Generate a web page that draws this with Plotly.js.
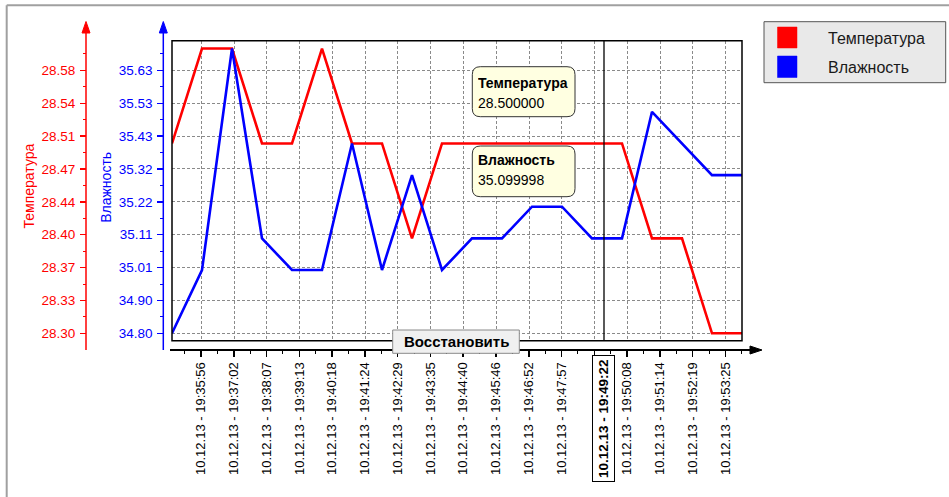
<!DOCTYPE html>
<html><head><meta charset="utf-8">
<script src="https://cdn.plot.ly/plotly-3.0.1.min.js"></script>
<style>html,body{margin:0;padding:0;background:#fff}#chart{width:949px;height:497px}</style>
</head><body><div id="chart"></div>
<script>
// ---------- data ----------
const times = [
  "2013-12-10 19:34:58","2013-12-10 19:35:58","2013-12-10 19:36:58","2013-12-10 19:37:58",
  "2013-12-10 19:38:58","2013-12-10 19:39:58","2013-12-10 19:40:58","2013-12-10 19:41:58",
  "2013-12-10 19:42:58","2013-12-10 19:43:58","2013-12-10 19:44:58","2013-12-10 19:45:58",
  "2013-12-10 19:46:58","2013-12-10 19:47:58","2013-12-10 19:48:58","2013-12-10 19:49:58",
  "2013-12-10 19:50:58","2013-12-10 19:51:58","2013-12-10 19:52:58","2013-12-10 19:53:58"
];
const temperature = [28.5,28.6,28.6,28.5,28.5,28.6,28.5,28.5,28.4,28.5,28.5,28.5,28.5,28.5,28.5,28.5,28.4,28.4,28.3,28.3];
const humidity    = [34.8,35.0,35.7,35.1,35.0,35.0,35.4,35.0,35.3,35.0,35.1,35.1,35.2,35.2,35.1,35.1,35.5,35.4,35.3,35.3];
const seriesNames = ["Температура","Влажность"];
const tickDay = "2013-12-10";
const tickDateText = "10.12.13";
const tickTimes = ["19:35:56","19:37:02","19:38:07","19:39:13","19:40:18","19:41:24","19:42:29","19:43:35",
                   "19:44:40","19:45:46","19:46:52","19:47:57","19:49:03","19:50:08","19:51:14","19:52:19","19:53:25"];
const hiddenTick = "19:49:03";
const tempTickLabels = ["28.30","28.33","28.37","28.40","28.44","28.47","28.51","28.54","28.58"];
const humTickLabels  = ["34.80","34.90","35.01","35.11","35.22","35.32","35.43","35.53","35.63"];
const cursorTime = "19:49:22";
const cursorValues = ["28.500000","35.099998"];
const buttonLabel = "Восстановить";

// ---------- geometry helpers ----------
const FW=949, FH=497, L=60, R=207, T=20, B=147;
const W=FW-L-R, H=FH-T-B;
const px = x => (x-L)/W;
const py = y => 1-(y-T)/H;
const FONT = "Liberation Sans, Arial, sans-serif";
const RED="#ff0000", BLUE="#0000ff";

function axisSetup(vals, labels){
  const mn=Math.min(...vals), mx=Math.max(...vals), span=mx-mn;
  const step=span*0.1154;
  return {range:[mn-0.026*span, mx+0.0275*span], tickvals:labels.map((_,k)=>mn+k*step), step, mn};
}
const tA = axisSetup(temperature, tempTickLabels);
const hA = axisSetup(humidity, humTickLabels);

const xTickVals = tickTimes.map(t => tickDay+" "+t);
const xTickText = tickTimes.map(t => t===hiddenTick ? "" : tickDateText+" - "+t);

const traces = [
  {x:times, y:temperature, yaxis:"y", type:"scatter", mode:"lines", name:seriesNames[0],
   line:{color:RED, width:2.6}, hoverinfo:"skip", showlegend:false},
  {x:times, y:humidity, yaxis:"y2", type:"scatter", mode:"lines", name:seriesNames[1],
   line:{color:BLUE, width:2.6}, hoverinfo:"skip", showlegend:false}
];

const yDom=[py(340.7), py(40.7)];
const GRID="#8a8a8a";

function P(x,y){return px(x)+","+py(y);}
function rrect(x0,y0,x1,y1,r){
  return "M"+P(x0+r,y0)+" L"+P(x1-r,y0)+" Q"+P(x1,y0)+" "+P(x1,y0+r)+
         " L"+P(x1,y1-r)+" Q"+P(x1,y1)+" "+P(x1-r,y1)+
         " L"+P(x0+r,y1)+" Q"+P(x0,y1)+" "+P(x0,y1-r)+
         " L"+P(x0,y0+r)+" Q"+P(x0,y0)+" "+P(x0+r,y0)+" Z";
}
function tri(a,b,c){return "M"+P(a[0],a[1])+" L"+P(b[0],b[1])+" L"+P(c[0],c[1])+" Z";}
function pline(x0,y0,x1,y1,color,width){
  return {type:"line", xref:"paper", yref:"paper", x0:px(x0), y0:py(y0), x1:px(x1), y1:py(y1),
          line:{color:color, width:width}};
}
function ppath(path, fill, lineColor, lw){
  return {type:"path", xref:"paper", yref:"paper", path:path, fillcolor:fill,
          line:{color:lineColor, width:lw}};
}
function prect(x0,y0,x1,y1,fill,lineColor,lw){
  return {type:"rect", xref:"paper", yref:"paper", x0:px(x0), y0:py(y1), x1:px(x1), y1:py(y0),
          fillcolor:fill, line:{color:lineColor, width:lw}};
}

const shapes = [
  // outer screenshot frame
  pline(6.7,5.3,949,5.3,"#a0a0a0",2),
  pline(6.7,5.3,6.7,497,"#a0a0a0",2),
  // plot frame
  prect(172,40.7,742,340.7,"rgba(0,0,0,0)","#000",1.5),
  // cursor line
  {type:"line", xref:"x", yref:"paper", x0:tickDay+" "+cursorTime, x1:tickDay+" "+cursorTime,
   y0:yDom[0], y1:yDom[1], line:{color:"#000", width:1.3}},
  // x axis line with arrow
  pline(170,350,752,350,"#000",2),
  ppath(tri([762,350],[750,346],[750,354]),"#000","#000",1),
  // temperature axis
  pline(86,350,86,31,RED,1.5),
  ppath(tri([86,21.5],[82,33],[90,33]),RED,RED,1),
  // humidity axis
  pline(163.3,350,163.3,31,BLUE,1.5),
  ppath(tri([163.3,21.5],[159.3,33],[167.3,33]),BLUE,BLUE,1),
  // legend
  prect(764,21.7,945.7,82.7,"#e9e9e9","#555",1),
  prect(777.5,27,797,48,RED,RED,0.5),
  prect(777.5,56,797,77.5,BLUE,BLUE,0.5),
  // tooltips
  ppath(rrect(472.3,66.7,575,116.7,8),"#ffffe1","#333",1),
  ppath(rrect(472.3,146,575,196.7,8),"#ffffe1","#333",1),
  // button
  prect(392.7,330,519.3,353.3,"#f0f0f0","#8a8a8a",1)
];

function ann(x,y,text,opts){
  return Object.assign({xref:"paper", yref:"paper", x:px(x), y:py(y), text:text, showarrow:false,
    xanchor:"center", yanchor:"middle", font:{family:FONT, size:14, color:"#000"}}, opts||{});
}

const annotations = [
  ann(28.5,186,seriesNames[0],{textangle:-90, font:{family:FONT,size:14,color:RED}}),
  ann(105.8,187,seriesNames[1],{textangle:-90, font:{family:FONT,size:14,color:BLUE}}),
  ann(826,38.5,seriesNames[0],{xanchor:"left", font:{family:FONT,size:16,color:"#1a1a1a"}}),
  ann(826,67,seriesNames[1],{xanchor:"left", font:{family:FONT,size:16,color:"#1a1a1a"}}),
  ann(475.5,82.7,"<b>"+seriesNames[0]+"</b>",{xanchor:"left", width:96, align:"left", font:{family:FONT,size:14,color:"#000"}}),
  ann(475.5,102.7,cursorValues[0],{xanchor:"left", width:96, align:"left", font:{family:FONT,size:14,color:"#000"}}),
  ann(475.5,160,"<b>"+seriesNames[1]+"</b>",{xanchor:"left", width:96, align:"left", font:{family:FONT,size:14,color:"#000"}}),
  ann(475.5,180,cursorValues[1],{xanchor:"left", width:96, align:"left", font:{family:FONT,size:14,color:"#000"}}),
  ann(456,341.7,"<b>"+buttonLabel+"</b>",{font:{family:FONT,size:15,color:"#000"}}),
  {xref:"x", yref:"paper", x:tickDay+" "+cursorTime, y:py(419), showarrow:false,
   text:"<b>"+tickDateText+" - "+cursorTime+"</b>", textangle:-90,
   font:{family:FONT,size:13.5,color:"#000"}, bgcolor:"#fff", bordercolor:"#000", borderwidth:1, borderpad:3,
   xanchor:"center", yanchor:"middle"}
];

const layout = {
  width:FW, height:FH, margin:{l:L, r:R, t:T, b:B, pad:0},
  paper_bgcolor:"#fff", plot_bgcolor:"#fff", showlegend:false,
  font:{family:FONT},
  xaxis:{type:"date", domain:[px(172),1], range:[times[0], times[times.length-1]],
    anchor:"free", position:0, tickmode:"array", tickvals:xTickVals, ticktext:xTickText,
    tickangle:-90, ticks:"outside", ticklen:6, tickwidth:1.5, tickcolor:"#000",
    tickfont:{family:FONT, size:13, color:"#000"},
    showline:false, zeroline:false, showgrid:true, gridcolor:GRID, gridwidth:1, griddash:"3px,2px",
    minor:{tickmode:"linear", tick0:tickDay+" 19:35:23.219", dtick:32781, ticks:"outside", ticklen:3,
      tickwidth:1, tickcolor:"#000", showgrid:false},
    fixedrange:true},
  yaxis:{domain:yDom, range:tA.range, anchor:"free", position:px(86), side:"left",
    tickmode:"array", tickvals:tA.tickvals, ticktext:tempTickLabels,
    ticks:"outside", ticklen:6, tickwidth:1.5, tickcolor:RED, ticklabelstandoff:2,
    tickfont:{family:FONT, size:13.5, color:RED},
    showline:false, zeroline:false, showgrid:true, gridcolor:GRID, gridwidth:1, griddash:"3px,2px",
    minor:{tickmode:"linear", tick0:tA.mn, dtick:tA.step/2, ticks:"outside", ticklen:3, tickwidth:1,
      tickcolor:RED, showgrid:false},
    fixedrange:true},
  yaxis2:{overlaying:"y", range:hA.range, anchor:"free", position:px(163.3), side:"left",
    tickmode:"array", tickvals:hA.tickvals, ticktext:humTickLabels,
    ticks:"outside", ticklen:6, tickwidth:1.5, tickcolor:BLUE, ticklabelstandoff:2,
    tickfont:{family:FONT, size:13.5, color:BLUE},
    showline:false, zeroline:false, showgrid:false,
    minor:{tickmode:"linear", tick0:hA.mn, dtick:hA.step/2, ticks:"outside", ticklen:3, tickwidth:1,
      tickcolor:BLUE, showgrid:false},
    fixedrange:true},
  shapes:shapes,
  annotations:annotations
};

Plotly.newPlot("chart", traces, layout, {displayModeBar:false, staticPlot:true});
</script>
</body></html>
